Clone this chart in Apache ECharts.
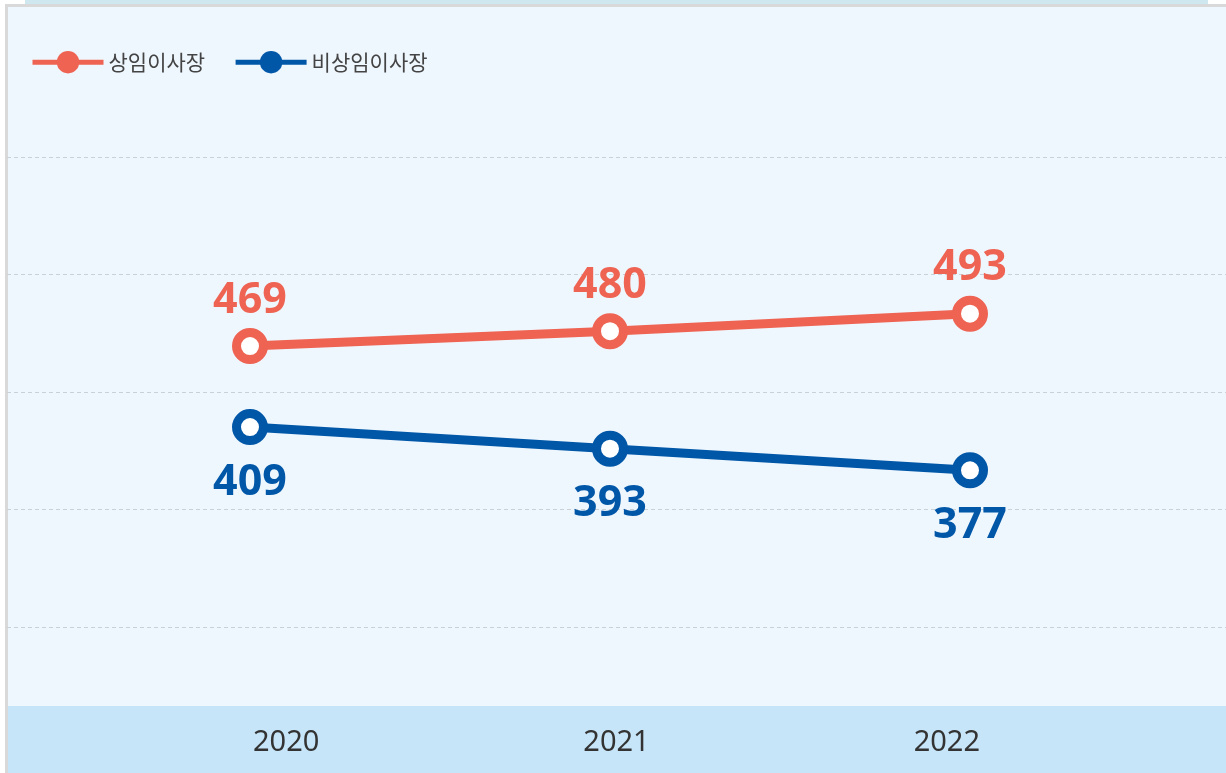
<!DOCTYPE html>
<html>
<head>
<meta charset="UTF-8">
<title>상임이사장 / 비상임이사장</title>
<style>
  body { margin: 0; background: #fff; }
  .strip { position: absolute; left: 25px; top: 0; width: 1183px; height: 4px; background: #cfe8f0; }
  .panel { position: absolute; left: 5px; top: 4px; width: 1218px; height: 766px; background: #eff7fe;
           border-top: 3px solid #d9d9d9; border-left: 3px solid #d9d9d9; }
  .band { position: absolute; left: 8px; top: 706px; width: 1218px; height: 67px; background: #c6e5f8; }
  #main { position: absolute; left: 0; top: 0; width: 1226px; height: 773px; }
</style>
<script src="https://cdn.jsdelivr.net/npm/echarts@6/dist/echarts.min.js"></script>
</head>
<body>
<div class="strip"></div>
<div class="panel"></div>
<div class="band"></div>
<div id="main"></div>
<script>
// 데이터
var years = ['2020', '2021', '2022'];
var standing = [469, 480, 493];      // 상임이사장
var nonStanding = [409, 393, 377];   // 비상임이사장
var seriesNames = ['상임이사장', '비상임이사장'];
var colors = ['#ee6352', '#0057a8'];
// 배경 눈금 (값 축)
var yMin = 261, yMax = 650, yStep = 87;

var chart = echarts.init(document.getElementById('main'));

var option = {
    backgroundColor: 'transparent',
    animation: false,
    legend: {
        left: 25,
        top: 46,
        itemWidth: 71,
        itemHeight: 28,
        itemGap: 28,
        textStyle: { fontFamily: 'Noto Sans CJK KR', fontSize: 21, color: '#444' },
        lineStyle: { width: 5 },
        data: [
            { name: seriesNames[0], itemStyle: { color: colors[0], borderWidth: 0 } },
            { name: seriesNames[1], itemStyle: { color: colors[1], borderWidth: 0 } }
        ]
    },
    grid: [
        // 데이터
        { left: 70, right: 76, top: 101.6, bottom: 146 },
        // 배경 점선
        { left: 7, right: 0, top: 101.6, bottom: 146 },
        // 연도 라벨
        { left: 121, right: 114, top: 600, bottom: 67 }
    ],
    xAxis: [
        { gridIndex: 0, type: 'category', data: years, show: false },
        { gridIndex: 1, type: 'category', data: years, show: false },
        {
            gridIndex: 2, type: 'category', data: years,
            axisLine: { show: false }, axisTick: { show: false },
            axisLabel: { margin: 22, fontFamily: 'Noto Sans', fontSize: 29, color: '#333' }
        }
    ],
    yAxis: [
        { gridIndex: 0, type: 'value', min: yMin, max: yMax, show: false, splitLine: { show: false } },
        {
            gridIndex: 1, type: 'value', min: yMin, max: yMax, interval: yStep,
            axisLine: { show: false }, axisTick: { show: false }, axisLabel: { show: false },
            splitLine: {
                show: true, showMinLine: true, showMaxLine: false,
                lineStyle: { color: '#c9d0d6', type: [4, 3], width: 1 }
            }
        },
        { gridIndex: 2, type: 'value', show: false }
    ],
    series: [
        {
            name: seriesNames[0],
            type: 'line',
            data: standing,
            symbol: 'circle',
            symbolSize: 27,
            lineStyle: { color: colors[0], width: 9 },
            itemStyle: { color: '#fff', borderColor: colors[0], borderWidth: 9 },
            label: {
                show: true, position: 'top', distance: 6,
                fontFamily: 'Noto Sans', fontWeight: 'bold', fontSize: 43, color: colors[0]
            },
            z: 3
        },
        {
            name: seriesNames[1],
            type: 'line',
            data: nonStanding,
            symbol: 'circle',
            symbolSize: 27,
            lineStyle: { color: colors[1], width: 9 },
            itemStyle: { color: '#fff', borderColor: colors[1], borderWidth: 9 },
            label: {
                show: true, position: 'bottom', distance: 16,
                fontFamily: 'Noto Sans', fontWeight: 'bold', fontSize: 43, color: colors[1]
            },
            z: 3
        }
    ]
};

chart.setOption(option);
</script>
</body>
</html>
